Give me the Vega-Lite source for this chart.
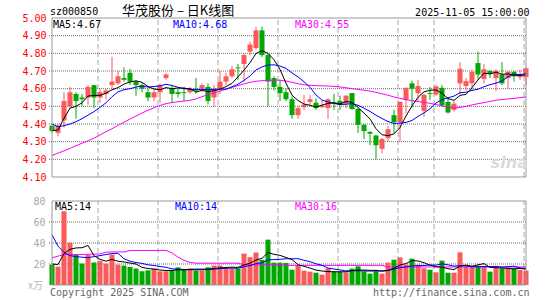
{
"$schema": "https://vega.github.io/schema/vega-lite/v6.json",
"width": 480, "height": 267,
"autosize": {"type": "none"},
"padding": {"left": 49, "right": 16, "top": 18, "bottom": 15},
"background": "white",
"config": {"view": {"stroke": null}, "text": {"font": "DejaVu Sans Mono", "fontSize": 10}},
"datasets": {
"k": [
{"d":"2025-07-09","o":4.39,"h":4.40,"l":4.35,"c":4.36,"v":19.4,"m5":4.362,"m10":4.400,"m30":4.222,"vm5":20.0,"vm10":48.0,"vm30":25.9},
{"d":"2025-07-10","o":4.35,"h":4.40,"l":4.33,"c":4.39,"v":17.5,"m5":4.366,"m10":4.385,"m30":4.235,"vm5":19.5,"vm10":37.0,"vm30":27.5},
{"d":"2025-07-11","o":4.42,"h":4.58,"l":4.38,"c":4.53,"v":70.2,"m5":4.432,"m10":4.390,"m30":4.248,"vm5":30.0,"vm10":31.0,"vm30":29.0},
{"d":"2025-07-14","o":4.50,"h":4.61,"l":4.49,"c":4.58,"v":40.2,"m5":4.490,"m10":4.400,"m30":4.262,"vm5":34.0,"vm10":28.0,"vm30":29.0},
{"d":"2025-07-15","o":4.57,"h":4.58,"l":4.43,"c":4.53,"v":29.0,"m5":4.500,"m10":4.413,"m30":4.277,"vm5":35.3,"vm10":27.0,"vm30":29.0},
{"d":"2025-07-16","o":4.55,"h":4.57,"l":4.50,"c":4.54,"v":20.4,"m5":4.520,"m10":4.430,"m30":4.291,"vm5":35.5,"vm10":26.5,"vm30":29.0},
{"d":"2025-07-17","o":4.55,"h":4.62,"l":4.51,"c":4.61,"v":28.5,"m5":4.558,"m10":4.450,"m30":4.305,"vm5":37.7,"vm10":26.0,"vm30":29.2},
{"d":"2025-07-18","o":4.62,"h":4.62,"l":4.49,"c":4.55,"v":21.4,"m5":4.562,"m10":4.470,"m30":4.320,"vm5":27.9,"vm10":27.0,"vm30":29.5},
{"d":"2025-07-21","o":4.55,"h":4.60,"l":4.52,"c":4.58,"v":22.9,"m5":4.562,"m10":4.494,"m30":4.338,"vm5":24.4,"vm10":28.0,"vm30":29.5},
{"d":"2025-07-22","o":4.57,"h":4.60,"l":4.54,"c":4.59,"v":20.4,"m5":4.574,"m10":4.520,"m30":4.356,"vm5":22.7,"vm10":29.0,"vm30":31.3},
{"d":"2025-07-23","o":4.62,"h":4.78,"l":4.60,"c":4.64,"v":29.0,"m5":4.594,"m10":4.554,"m30":4.373,"vm5":24.4,"vm10":30.0,"vm30":31.5},
{"d":"2025-07-24","o":4.63,"h":4.70,"l":4.62,"c":4.67,"v":19.4,"m5":4.606,"m10":4.582,"m30":4.392,"vm5":22.6,"vm10":30.2,"vm30":31.5},
{"d":"2025-07-25","o":4.66,"h":4.72,"l":4.64,"c":4.65,"v":18.5,"m5":4.626,"m10":4.594,"m30":4.410,"vm5":22.0,"vm10":25.0,"vm30":31.5},
{"d":"2025-07-28","o":4.69,"h":4.71,"l":4.62,"c":4.64,"v":17.2,"m5":4.638,"m10":4.600,"m30":4.428,"vm5":20.9,"vm10":22.7,"vm30":32.9},
{"d":"2025-07-29","o":4.64,"h":4.65,"l":4.56,"c":4.62,"v":15.7,"m5":4.644,"m10":4.609,"m30":4.445,"vm5":20.0,"vm10":21.4,"vm30":32.9},
{"d":"2025-07-30","o":4.62,"h":4.63,"l":4.58,"c":4.60,"v":13.1,"m5":4.636,"m10":4.615,"m30":4.462,"vm5":16.8,"vm10":20.6,"vm30":32.9},
{"d":"2025-07-31","o":4.58,"h":4.60,"l":4.53,"c":4.55,"v":14.0,"m5":4.612,"m10":4.609,"m30":4.478,"vm5":15.7,"vm10":19.2,"vm30":32.9},
{"d":"2025-08-01","o":4.55,"h":4.60,"l":4.53,"c":4.58,"v":15.7,"m5":4.598,"m10":4.612,"m30":4.492,"vm5":15.1,"vm10":18.6,"vm30":32.9},
{"d":"2025-08-04","o":4.58,"h":4.63,"l":4.52,"c":4.62,"v":13.1,"m5":4.594,"m10":4.616,"m30":4.505,"vm5":14.3,"vm10":17.6,"vm30":32.9},
{"d":"2025-08-05","o":4.66,"h":4.69,"l":4.65,"c":4.68,"v":13.1,"m5":4.606,"m10":4.625,"m30":4.515,"vm5":13.8,"vm10":16.9,"vm30":32.9},
{"d":"2025-08-06","o":4.60,"h":4.62,"l":4.52,"c":4.57,"v":13.8,"m5":4.600,"m10":4.618,"m30":4.521,"vm5":13.9,"vm10":15.4,"vm30":30.6},
{"d":"2025-08-07","o":4.58,"h":4.60,"l":4.55,"c":4.57,"v":16.8,"m5":4.604,"m10":4.608,"m30":4.526,"vm5":14.5,"vm10":15.1,"vm30":26.5},
{"d":"2025-08-08","o":4.58,"h":4.61,"l":4.53,"c":4.575,"v":15.2,"m5":4.603,"m10":4.600,"m30":4.530,"vm5":14.4,"vm10":14.8,"vm30":23.5},
{"d":"2025-08-11","o":4.58,"h":4.61,"l":4.57,"c":4.60,"v":15.7,"m5":4.599,"m10":4.597,"m30":4.534,"vm5":14.9,"vm10":14.6,"vm30":21.5},
{"d":"2025-08-12","o":4.60,"h":4.66,"l":4.57,"c":4.59,"v":13.8,"m5":4.581,"m10":4.594,"m30":4.542,"vm5":15.1,"vm10":14.5,"vm30":20.8},
{"d":"2025-08-13","o":4.60,"h":4.63,"l":4.58,"c":4.62,"v":13.8,"m5":4.591,"m10":4.596,"m30":4.555,"vm5":15.1,"vm10":14.5,"vm30":20.8},
{"d":"2025-08-14","o":4.61,"h":4.63,"l":4.51,"c":4.53,"v":16.8,"m5":4.583,"m10":4.594,"m30":4.566,"vm5":15.1,"vm10":14.8,"vm30":20.8},
{"d":"2025-08-15","o":4.55,"h":4.62,"l":4.50,"c":4.60,"v":18.5,"m5":4.588,"m10":4.596,"m30":4.576,"vm5":15.7,"vm10":15.1,"vm30":20.8},
{"d":"2025-08-18","o":4.60,"h":4.70,"l":4.57,"c":4.64,"v":18.5,"m5":4.596,"m10":4.598,"m30":4.586,"vm5":16.3,"vm10":15.6,"vm30":20.8},
{"d":"2025-08-19","o":4.64,"h":4.69,"l":4.62,"c":4.67,"v":15.7,"m5":4.612,"m10":4.597,"m30":4.597,"vm5":16.7,"vm10":15.9,"vm30":20.8},
{"d":"2025-08-20","o":4.67,"h":4.73,"l":4.66,"c":4.71,"v":15.7,"m5":4.630,"m10":4.611,"m30":4.607,"vm5":17.0,"vm10":16.1,"vm30":20.8},
{"d":"2025-08-21","o":4.72,"h":4.74,"l":4.65,"c":4.715,"v":15.7,"m5":4.667,"m10":4.625,"m30":4.617,"vm5":16.8,"vm10":16.0,"vm30":20.8},
{"d":"2025-08-22","o":4.74,"h":4.80,"l":4.64,"c":4.79,"v":29.9,"m5":4.705,"m10":4.647,"m30":4.627,"vm5":19.1,"vm10":17.4,"vm30":19.2},
{"d":"2025-08-25","o":4.81,"h":4.865,"l":4.79,"c":4.85,"v":26.5,"m5":4.747,"m10":4.672,"m30":4.636,"vm5":20.7,"vm10":18.5,"vm30":19.2},
{"d":"2025-08-26","o":4.83,"h":4.95,"l":4.82,"c":4.93,"v":31.0,"m5":4.799,"m10":4.706,"m30":4.642,"vm5":23.8,"vm10":20.3,"vm30":19.2},
{"d":"2025-08-27","o":4.93,"h":4.95,"l":4.78,"c":4.79,"v":24.0,"m5":4.815,"m10":4.723,"m30":4.645,"vm5":25.4,"vm10":21.2,"vm30":19.2},
{"d":"2025-08-28","o":4.79,"h":4.80,"l":4.50,"c":4.64,"v":43.2,"m5":4.800,"m10":4.734,"m30":4.647,"vm5":30.9,"vm10":23.9,"vm30":19.2},
{"d":"2025-08-29","o":4.66,"h":4.67,"l":4.59,"c":4.61,"v":21.3,"m5":4.764,"m10":4.735,"m30":4.648,"vm5":29.2,"vm10":24.2,"vm30":19.2},
{"d":"2025-09-01","o":4.61,"h":4.65,"l":4.53,"c":4.575,"v":21.3,"m5":4.709,"m10":4.728,"m30":4.648,"vm5":28.2,"vm10":24.5,"vm30":19.2},
{"d":"2025-09-02","o":4.58,"h":4.60,"l":4.53,"c":4.54,"v":21.0,"m5":4.631,"m10":4.715,"m30":4.643,"vm5":26.2,"vm10":25.0,"vm30":18.7},
{"d":"2025-09-03","o":4.54,"h":4.555,"l":4.43,"c":4.45,"v":14.6,"m5":4.563,"m10":4.689,"m30":4.636,"vm5":24.3,"vm10":24.9,"vm30":18.7},
{"d":"2025-09-04","o":4.45,"h":4.505,"l":4.43,"c":4.49,"v":18.4,"m5":4.533,"m10":4.667,"m30":4.628,"vm5":19.3,"vm10":25.1,"vm30":18.7},
{"d":"2025-09-05","o":4.495,"h":4.565,"l":4.48,"c":4.51,"v":13.7,"m5":4.513,"m10":4.639,"m30":4.622,"vm5":17.8,"vm10":23.5,"vm30":18.7},
{"d":"2025-09-08","o":4.525,"h":4.565,"l":4.505,"c":4.54,"v":12.7,"m5":4.506,"m10":4.608,"m30":4.619,"vm5":16.1,"vm10":22.2,"vm30":18.7},
{"d":"2025-09-09","o":4.52,"h":4.545,"l":4.48,"c":4.49,"v":11.7,"m5":4.496,"m10":4.564,"m30":4.617,"vm5":14.2,"vm10":20.2,"vm30":18.7},
{"d":"2025-09-10","o":4.495,"h":4.53,"l":4.49,"c":4.505,"v":9.8,"m5":4.507,"m10":4.535,"m30":4.616,"vm5":13.3,"vm10":18.8,"vm30":18.7},
{"d":"2025-09-11","o":4.49,"h":4.545,"l":4.43,"c":4.54,"v":15.9,"m5":4.517,"m10":4.525,"m30":4.615,"vm5":12.8,"vm10":16.1,"vm30":18.7},
{"d":"2025-09-12","o":4.525,"h":4.57,"l":4.48,"c":4.52,"v":12.7,"m5":4.519,"m10":4.516,"m30":4.613,"vm5":12.6,"vm10":15.2,"vm30":18.7},
{"d":"2025-09-15","o":4.53,"h":4.56,"l":4.48,"c":4.51,"v":12.7,"m5":4.513,"m10":4.510,"m30":4.610,"vm5":12.6,"vm10":14.4,"vm30":18.7},
{"d":"2025-09-16","o":4.515,"h":4.565,"l":4.49,"c":4.56,"v":12.1,"m5":4.527,"m10":4.512,"m30":4.605,"vm5":12.6,"vm10":13.4,"vm30":18.7},
{"d":"2025-09-17","o":4.575,"h":4.575,"l":4.48,"c":4.485,"v":15.6,"m5":4.523,"m10":4.515,"m30":4.600,"vm5":13.8,"vm10":13.6,"vm30":18.7},
{"d":"2025-09-18","o":4.485,"h":4.49,"l":4.35,"c":4.395,"v":17.8,"m5":4.494,"m10":4.506,"m30":4.596,"vm5":14.2,"vm10":13.5,"vm30":18.7},
{"d":"2025-09-19","o":4.395,"h":4.40,"l":4.315,"c":4.36,"v":13.0,"m5":4.462,"m10":4.490,"m30":4.591,"vm5":14.2,"vm10":13.4,"vm30":18.7},
{"d":"2025-09-22","o":4.355,"h":4.36,"l":4.28,"c":4.345,"v":10.8,"m5":4.429,"m10":4.471,"m30":4.586,"vm5":13.9,"vm10":13.3,"vm30":18.7},
{"d":"2025-09-23","o":4.335,"h":4.34,"l":4.20,"c":4.28,"v":13.0,"m5":4.373,"m10":4.450,"m30":4.579,"vm5":14.0,"vm10":13.3,"vm30":18.7},
{"d":"2025-09-24","o":4.26,"h":4.32,"l":4.235,"c":4.315,"v":10.8,"m5":4.339,"m10":4.431,"m30":4.571,"vm5":13.1,"vm10":13.5,"vm30":18.7},
{"d":"2025-09-25","o":4.32,"h":4.39,"l":4.30,"c":4.37,"v":21.3,"m5":4.334,"m10":4.414,"m30":4.563,"vm5":13.8,"vm10":14.0,"vm30":17.2},
{"d":"2025-09-26","o":4.45,"h":4.48,"l":4.35,"c":4.41,"v":24.1,"m5":4.344,"m10":4.403,"m30":4.553,"vm5":16.0,"vm10":15.1,"vm30":17.2},
{"d":"2025-09-29","o":4.41,"h":4.53,"l":4.30,"c":4.525,"v":26.3,"m5":4.380,"m10":4.405,"m30":4.545,"vm5":19.1,"vm10":16.5,"vm30":17.2},
{"d":"2025-09-30","o":4.535,"h":4.605,"l":4.46,"c":4.605,"v":19.4,"m5":4.445,"m10":4.409,"m30":4.538,"vm5":20.4,"vm10":17.2,"vm30":17.2},
{"d":"2025-10-09","o":4.63,"h":4.645,"l":4.49,"c":4.60,"v":25.1,"m5":4.502,"m10":4.420,"m30":4.532,"vm5":23.2,"vm10":18.2,"vm30":17.2},
{"d":"2025-10-10","o":4.575,"h":4.65,"l":4.53,"c":4.615,"v":19.4,"m5":4.551,"m10":4.443,"m30":4.527,"vm5":22.9,"vm10":18.4,"vm30":17.2},
{"d":"2025-10-13","o":4.475,"h":4.57,"l":4.44,"c":4.565,"v":15.9,"m5":4.582,"m10":4.463,"m30":4.523,"vm5":21.2,"vm10":18.6,"vm30":17.2},
{"d":"2025-10-14","o":4.575,"h":4.61,"l":4.535,"c":4.57,"v":14.6,"m5":4.591,"m10":4.486,"m30":4.517,"vm5":18.9,"vm10":19.0,"vm30":17.2},
{"d":"2025-10-15","o":4.567,"h":4.62,"l":4.56,"c":4.613,"v":12.1,"m5":4.593,"m10":4.519,"m30":4.510,"vm5":17.4,"vm10":18.9,"vm30":17.2},
{"d":"2025-10-16","o":4.605,"h":4.62,"l":4.497,"c":4.505,"v":23.2,"m5":4.574,"m10":4.538,"m30":4.503,"vm5":17.0,"vm10":20.1,"vm30":17.2},
{"d":"2025-10-17","o":4.525,"h":4.545,"l":4.46,"c":4.465,"v":11.7,"m5":4.544,"m10":4.548,"m30":4.496,"vm5":15.5,"vm10":19.2,"vm30":17.2},
{"d":"2025-10-20","o":4.48,"h":4.53,"l":4.47,"c":4.515,"v":11.7,"m5":4.534,"m10":4.558,"m30":4.490,"vm5":14.7,"vm10":18.0,"vm30":17.2},
{"d":"2025-10-21","o":4.63,"h":4.75,"l":4.57,"c":4.713,"v":31.1,"m5":4.562,"m10":4.577,"m30":4.494,"vm5":18.0,"vm10":18.5,"vm30":17.2},
{"d":"2025-10-22","o":4.615,"h":4.66,"l":4.59,"c":4.643,"v":17.5,"m5":4.568,"m10":4.580,"m30":4.500,"vm5":19.0,"vm10":18.2,"vm30":17.2},
{"d":"2025-10-23","o":4.63,"h":4.705,"l":4.59,"c":4.695,"v":17.5,"m5":4.606,"m10":4.590,"m30":4.508,"vm5":17.9,"vm10":17.5,"vm30":17.2},
{"d":"2025-10-24","o":4.745,"h":4.81,"l":4.65,"c":4.68,"v":18.4,"m5":4.649,"m10":4.597,"m30":4.515,"vm5":19.2,"vm10":17.4,"vm30":17.2},
{"d":"2025-10-27","o":4.655,"h":4.74,"l":4.63,"c":4.71,"v":17.5,"m5":4.688,"m10":4.611,"m30":4.521,"vm5":20.4,"vm10":17.6,"vm30":17.2},
{"d":"2025-10-28","o":4.70,"h":4.705,"l":4.66,"c":4.685,"v":12.7,"m5":4.683,"m10":4.623,"m30":4.528,"vm5":16.7,"vm10":17.4,"vm30":17.2},
{"d":"2025-10-29","o":4.66,"h":4.71,"l":4.585,"c":4.70,"v":16.5,"m5":4.694,"m10":4.631,"m30":4.535,"vm5":16.5,"vm10":17.8,"vm30":17.2},
{"d":"2025-10-30","o":4.68,"h":4.75,"l":4.62,"c":4.63,"v":15.6,"m5":4.681,"m10":4.644,"m30":4.538,"vm5":16.1,"vm10":17.0,"vm30":17.2},
{"d":"2025-10-31","o":4.66,"h":4.70,"l":4.60,"c":4.695,"v":16.5,"m5":4.684,"m10":4.667,"m30":4.542,"vm5":15.8,"vm10":17.5,"vm30":17.2},
{"d":"2025-11-03","o":4.695,"h":4.70,"l":4.64,"c":4.67,"v":15.6,"m5":4.676,"m10":4.682,"m30":4.545,"vm5":15.4,"vm10":17.9,"vm30":17.2},
{"d":"2025-11-04","o":4.665,"h":4.705,"l":4.65,"c":4.68,"v":14.3,"m5":4.675,"m10":4.679,"m30":4.549,"vm5":15.7,"vm10":16.2,"vm30":17.2},
{"d":"2025-11-05","o":4.665,"h":4.72,"l":4.62,"c":4.715,"v":13.7,"m5":4.678,"m10":4.686,"m30":4.553,"vm5":15.1,"vm10":15.8,"vm30":17.2}
],
"ticks": [{"d":"2025-07-21"},{"d":"2025-08-04"},{"d":"2025-08-18"},{"d":"2025-09-01"},{"d":"2025-09-15"},{"d":"2025-09-29"},{"d":"2025-10-15"},{"d":"2025-11-05"}],
"plevels": [{"p":4.2},{"p":4.3},{"p":4.4},{"p":4.5},{"p":4.6},{"p":4.7},{"p":4.8},{"p":4.9}],
"vlevels": [{"q":20},{"q":40},{"q":60}]
},
"data": {"name": "k"},
"layer": [
  {"data": {"name": "ticks"}, "mark": {"type": "rule", "stroke": "#a8a8a8", "strokeDash": [5, 3], "strokeWidth": 1},
   "encoding": {
     "x": {"field": "d", "type": "ordinal", "bandPosition": 0.17, "scale": {"paddingInner": 0, "paddingOuter": 0},
       "axis": {"orient": "bottom", "offset": -108, "values": ["2025-07-21","2025-08-04","2025-08-18","2025-09-01","2025-09-15","2025-09-29","2025-10-15","2025-11-05"],
         "labelExpr": "datum.value == '2025-07-21' ? datum.value : slice(datum.value, 5)",
         "labelColor": "#1e7fcf", "labelFont": "DejaVu Sans Mono", "labelFontSize": 10, "labelPadding": 4, "labelBaseline": "top",
         "labelAngle": 0, "domain": false, "ticks": false, "tickSize": 0, "grid": false, "title": null, "bandPosition": 0.17, "labelOverlap": false}},
     "y": {"datum": 4.1, "type": "quantitative", "scale": {"domain": [4.1, 5.0], "range": [159, 0], "nice": false, "zero": false},
       "axis": {"orient": "left", "values": [4.1,4.2,4.3,4.4,4.5,4.6,4.7,4.8,4.9,5.0], "format": ".2f", "labelColor": "#ff0000",
         "labelFont": "DejaVu Sans Mono", "labelFontSize": 10, "labelPadding": 3, "domain": false, "ticks": false, "tickSize": 0,
         "grid": false, "title": null}},
     "y2": {"datum": 5.0}}},
  {"data": {"name": "ticks"}, "mark": {"type": "rule", "stroke": "#a8a8a8", "strokeDash": [5, 3], "strokeWidth": 1},
   "encoding": {"x": {"field": "d", "type": "ordinal", "bandPosition": 0.17, "axis": null},
     "y": {"datum": 0, "type": "quantitative", "scale": {"domain": [0, 80], "range": [267, 183], "nice": false},
       "axis": {"orient": "left", "values": [20, 40, 60, 80], "labelColor": "#a8a8a8", "labelFont": "DejaVu Sans Mono", "labelFontSize": 10,
         "labelPadding": 4, "domain": false, "ticks": false, "tickSize": 0, "grid": false, "title": null}},
     "y2": {"datum": 80}}},
  {"data": {"name": "plevels"}, "mark": {"type": "rule", "stroke": "#6e6e6e", "strokeDash": [1, 1], "strokeWidth": 1},
   "encoding": {"x": {"datum": "2025-07-09", "type": "ordinal", "bandPosition": 0, "axis": null}, "x2": {"datum": "2025-11-05"},
     "y": {"field": "p", "type": "quantitative", "scale": {"domain": [4.1, 5.0], "range": [159, 0], "nice": false, "zero": false}, "axis": null}}},
  {"data": {"name": "vlevels"}, "mark": {"type": "rule", "stroke": "#6e6e6e", "strokeDash": [1, 1], "strokeWidth": 1},
   "encoding": {"x": {"datum": "2025-07-09", "type": "ordinal", "bandPosition": 0, "axis": null}, "x2": {"datum": "2025-11-05"},
     "y": {"field": "q", "type": "quantitative", "scale": {"domain": [0, 80], "range": [267, 183], "nice": false}, "axis": null}}},
  {"mark": {"type": "rule", "strokeWidth": 1},
   "encoding": {
     "x": {"field": "d", "type": "ordinal", "axis": null},
     "y": {"field": "l", "type": "quantitative", "scale": {"domain": [4.1, 5.0], "range": [159, 0], "nice": false, "zero": false}, "axis": null},
     "y2": {"field": "h"},
     "color": {"condition": {"test": "datum.c >= datum.o", "value": "#fa5a5a"}, "value": "#00a800"}}},
  {"mark": {"type": "bar", "width": {"band": 0.84}},
   "encoding": {
     "x": {"field": "d", "type": "ordinal", "axis": null},
     "y": {"field": "o", "type": "quantitative", "scale": {"domain": [4.1, 5.0], "range": [159, 0], "nice": false, "zero": false}, "axis": null},
     "y2": {"field": "c"},
     "color": {"condition": {"test": "datum.c >= datum.o", "value": "#fa5a5a"}, "value": "#00a800"}}},
  {"mark": {"type": "bar", "width": {"band": 0.84}},
   "encoding": {
     "x": {"field": "d", "type": "ordinal", "axis": null},
     "y": {"field": "v", "type": "quantitative", "scale": {"domain": [0, 80], "range": [267, 183], "nice": false}, "axis": null},
     "color": {"condition": {"test": "datum.c >= datum.o", "value": "#fa5a5a"}, "value": "#00a800"}}},
  {"mark": {"type": "line", "stroke": "#ff00ff", "strokeWidth": 1},
   "encoding": {"x": {"field": "d", "type": "ordinal", "axis": null}, "y": {"field": "m30", "type": "quantitative", "scale": {"domain": [4.1, 5.0], "range": [159, 0], "nice": false, "zero": false}, "axis": null}}},
  {"mark": {"type": "line", "stroke": "#0000ff", "strokeWidth": 1},
   "encoding": {"x": {"field": "d", "type": "ordinal", "axis": null}, "y": {"field": "m10", "type": "quantitative", "scale": {"domain": [4.1, 5.0], "range": [159, 0], "nice": false, "zero": false}, "axis": null}}},
  {"mark": {"type": "line", "stroke": "#000000", "strokeWidth": 1},
   "encoding": {"x": {"field": "d", "type": "ordinal", "axis": null}, "y": {"field": "m5", "type": "quantitative", "scale": {"domain": [4.1, 5.0], "range": [159, 0], "nice": false, "zero": false}, "axis": null}}},
  {"mark": {"type": "line", "stroke": "#ff00ff", "strokeWidth": 1},
   "encoding": {"x": {"field": "d", "type": "ordinal", "axis": null}, "y": {"field": "vm30", "type": "quantitative", "scale": {"domain": [0, 80], "range": [267, 183], "nice": false}, "axis": null}}},
  {"mark": {"type": "line", "stroke": "#0000ff", "strokeWidth": 1},
   "encoding": {"x": {"field": "d", "type": "ordinal", "axis": null}, "y": {"field": "vm10", "type": "quantitative", "scale": {"domain": [0, 80], "range": [267, 183], "nice": false}, "axis": null}}},
  {"mark": {"type": "line", "stroke": "#000000", "strokeWidth": 1},
   "encoding": {"x": {"field": "d", "type": "ordinal", "axis": null}, "y": {"field": "vm5", "type": "quantitative", "scale": {"domain": [0, 80], "range": [267, 183], "nice": false}, "axis": null}}},
  {"data": {"values": [{}]}, "mark": {"type": "rect", "fill": null, "stroke": "#999999", "strokeWidth": 1},
   "encoding": {"x": {"datum": "2025-07-09", "type": "ordinal", "axis": null}, "x2": {"datum": "2025-11-05"},
     "y": {"datum": 5.0, "type": "quantitative", "scale": {"domain": [4.1, 5.0], "range": [159, 0], "nice": false, "zero": false}, "axis": null}, "y2": {"datum": 4.1}}},
  {"data": {"values": [{}]}, "mark": {"type": "rect", "fill": null, "stroke": "#999999", "strokeWidth": 1},
   "encoding": {"x": {"datum": "2025-07-09", "type": "ordinal", "axis": null}, "x2": {"datum": "2025-11-05"},
     "y": {"datum": 80, "type": "quantitative", "scale": {"domain": [0, 80], "range": [267, 183], "nice": false}, "axis": null}, "y2": {"datum": 0}}},
  {"data": {"values": [{}]}, "mark": {"type": "text", "text": "sina", "font": "DejaVu Sans", "fontSize": 16, "fontWeight": "bold", "fontStyle": "italic", "align": "right", "baseline": "alphabetic", "dx": 2, "dy": -9, "color": "#dadada"},
   "encoding": {"x": {"datum": "2025-11-05", "type": "ordinal", "axis": null}, "y": {"datum": 4.1, "type": "quantitative", "scale": {"domain": [4.1, 5.0], "range": [159, 0], "nice": false, "zero": false}, "axis": null}}},
  {"data": {"values": [{}]}, "mark": {"type": "text", "text": "sz000850", "align": "left", "baseline": "alphabetic", "dx": -2, "dy": -3, "color": "#000000"},
   "encoding": {"x": {"datum": "2025-07-09", "type": "ordinal", "axis": null}, "y": {"datum": 5.0, "type": "quantitative", "scale": {"domain": [4.1, 5.0], "range": [159, 0], "nice": false, "zero": false}, "axis": null}}},
  {"data": {"values": [{}]}, "mark": {"type": "text", "text": "华茂股份 – 日K线图", "font": "Noto Sans CJK SC", "fontSize": 13, "align": "left", "baseline": "alphabetic", "dx": 4, "dy": -3, "color": "#000000"},
   "encoding": {"x": {"datum": "2025-07-24", "type": "ordinal", "axis": null}, "y": {"datum": 5.0, "type": "quantitative", "scale": {"domain": [4.1, 5.0], "range": [159, 0], "nice": false, "zero": false}, "axis": null}}},
  {"data": {"values": [{}]}, "mark": {"type": "text", "text": "2025-11-05 15:00:00", "align": "right", "baseline": "alphabetic", "dx": 3.5, "dy": -2, "color": "#000000"},
   "encoding": {"x": {"datum": "2025-11-05", "type": "ordinal", "axis": null}, "y": {"datum": 5.0, "type": "quantitative", "scale": {"domain": [4.1, 5.0], "range": [159, 0], "nice": false, "zero": false}, "axis": null}}},
  {"data": {"values": [{}]}, "mark": {"type": "text", "text": "MA5:4.67", "align": "left", "baseline": "alphabetic", "dx": 1, "dy": 10, "color": "#000000"},
   "encoding": {"x": {"datum": "2025-07-09", "type": "ordinal", "axis": null}, "y": {"datum": 5.0, "type": "quantitative", "scale": {"domain": [4.1, 5.0], "range": [159, 0], "nice": false, "zero": false}, "axis": null}}},
  {"data": {"values": [{}]}, "mark": {"type": "text", "text": "MA10:4.68", "align": "left", "baseline": "alphabetic", "dx": 1, "dy": 10, "color": "#0000ff"},
   "encoding": {"x": {"datum": "2025-08-06", "type": "ordinal", "axis": null}, "y": {"datum": 5.0, "type": "quantitative", "scale": {"domain": [4.1, 5.0], "range": [159, 0], "nice": false, "zero": false}, "axis": null}}},
  {"data": {"values": [{}]}, "mark": {"type": "text", "text": "MA30:4.55", "align": "left", "baseline": "alphabetic", "dx": 3, "dy": 10, "color": "#ff00ff"},
   "encoding": {"x": {"datum": "2025-09-03", "type": "ordinal", "axis": null}, "y": {"datum": 5.0, "type": "quantitative", "scale": {"domain": [4.1, 5.0], "range": [159, 0], "nice": false, "zero": false}, "axis": null}}},
  {"data": {"values": [{}]}, "mark": {"type": "text", "text": "MA5:14", "align": "left", "baseline": "alphabetic", "dx": 3, "dy": 9, "color": "#000000"},
   "encoding": {"x": {"datum": "2025-07-09", "type": "ordinal", "axis": null}, "y": {"datum": 80, "type": "quantitative", "scale": {"domain": [0, 80], "range": [267, 183], "nice": false}, "axis": null}}},
  {"data": {"values": [{}]}, "mark": {"type": "text", "text": "MA10:14", "align": "left", "baseline": "alphabetic", "dx": 3, "dy": 9, "color": "#0000ff"},
   "encoding": {"x": {"datum": "2025-08-06", "type": "ordinal", "axis": null}, "y": {"datum": 80, "type": "quantitative", "scale": {"domain": [0, 80], "range": [267, 183], "nice": false}, "axis": null}}},
  {"data": {"values": [{}]}, "mark": {"type": "text", "text": "MA30:16", "align": "left", "baseline": "alphabetic", "dx": 3, "dy": 9, "color": "#ff00ff"},
   "encoding": {"x": {"datum": "2025-09-03", "type": "ordinal", "axis": null}, "y": {"datum": 80, "type": "quantitative", "scale": {"domain": [0, 80], "range": [267, 183], "nice": false}, "axis": null}}},
  {"data": {"values": [{}]}, "mark": {"type": "text", "text": "x万", "font": "Noto Sans CJK SC", "fontSize": 10, "align": "right", "baseline": "alphabetic", "dx": -9, "dy": 4, "color": "#b8b8b8"},
   "encoding": {"x": {"datum": "2025-07-09", "type": "ordinal", "axis": null}, "y": {"datum": 0, "type": "quantitative", "scale": {"domain": [0, 80], "range": [267, 183], "nice": false}, "axis": null}}},
  {"data": {"values": [{}]}, "mark": {"type": "text", "text": "Copyright 2025 SINA.COM", "align": "left", "baseline": "alphabetic", "dx": -2, "dy": 10.5, "color": "#666666"},
   "encoding": {"x": {"datum": "2025-07-09", "type": "ordinal", "axis": null}, "y": {"datum": 0, "type": "quantitative", "scale": {"domain": [0, 80], "range": [267, 183], "nice": false}, "axis": null}}},
  {"data": {"values": [{}]}, "mark": {"type": "text", "text": "http://finance.sina.com.cn", "align": "right", "baseline": "alphabetic", "dx": 3.5, "dy": 10.5, "color": "#666666"},
   "encoding": {"x": {"datum": "2025-11-05", "type": "ordinal", "axis": null}, "y": {"datum": 0, "type": "quantitative", "scale": {"domain": [0, 80], "range": [267, 183], "nice": false}, "axis": null}}}
],
"resolve": {"scale": {"y": "independent"}}
}
